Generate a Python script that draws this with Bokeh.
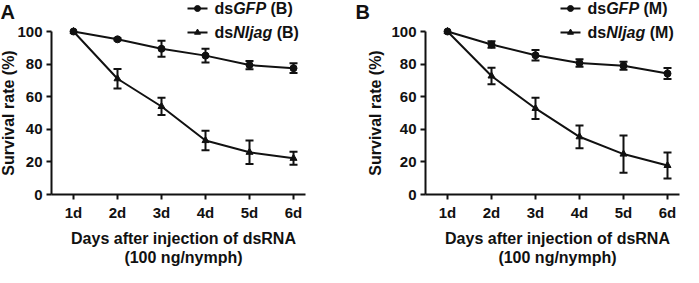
import math
from bokeh.plotting import figure
from bokeh.layouts import row
from bokeh.models import Label, Whisker, TeeHead, ColumnDataSource, FixedTicker
from bokeh.embed import file_html
from bokeh.resources import INLINE

# ---------------- data ----------------
days = [1, 2, 3, 4, 5, 6]
day_labels = ["1d", "2d", "3d", "4d", "5d", "6d"]
y_ticks = [0, 20, 40, 60, 80, 100]

a_gfp = [100, 95.2, 89.4, 85.2, 79.4, 77.5]
a_gfp_err = [0, 0.6, 4.9, 4.2, 2.5, 3.0]
a_nl = [100, 71.0, 54.0, 33.1, 25.9, 22.2]
a_nl_err = [0, 6.0, 5.3, 6.0, 7.2, 4.0]

b_gfp = [100, 92.0, 85.4, 80.7, 79.0, 74.2]
b_gfp_err = [0, 2.0, 3.2, 2.3, 2.5, 3.4]
b_nl = [100, 72.7, 52.8, 35.4, 24.8, 17.8]
b_nl_err = [0, 5.1, 6.5, 7.0, 11.4, 8.0]

x_title_1 = "Days after injection of dsRNA"
x_title_2 = "(100 ng/nymph)"
y_title = "Survival rate (%)"

# ---------------- layout ----------------
FONT = "Liberation Sans"
INK = "#111111"
H = 267
Y0_PX = 194
Y100_PX = 31
PPY = (Y0_PX - Y100_PX) / 100.0
PPX = 44.0
X_START = 0.5

# Arial bold advance widths (per 1000 em)
AW = {'d': 611, 's': 556, 'G': 778, 'F': 611, 'P': 667, 'N': 722, 'l': 278,
      'j': 278, 'a': 556, 'g': 611, ' ': 278, '(': 333, ')': 333, 'B': 722, 'M': 833}


def tw(t, size):
    return sum(AW.get(c, 600) for c in t) * size / 1000.0


def make_panel(letter, tag, gfp, gfp_err, nl, nl_err, width, axis_px,
               ylabel_px, letter_px, legend_px):
    def px2x(px):
        return X_START + (px - axis_px) / PPX

    def px2y(py):
        return (Y0_PX - py) / PPY

    p = figure(width=width, height=H, x_range=(px2x(0), px2x(width)),
               y_range=(px2y(H), px2y(0)),
               output_backend="svg", toolbar_location=None, min_border=0)
    p.outline_line_color = None
    p.grid.visible = False
    p.background_fill_color = "white"
    p.border_fill_color = "white"

    for ax in (p.xaxis, p.yaxis):
        ax.axis_line_width = 2
        ax.axis_line_color = INK
        ax.major_tick_line_width = 2
        ax.major_tick_line_color = INK
        ax.major_tick_out = 5
        ax.major_tick_in = 0
        ax.minor_tick_line_color = None
        ax.major_label_text_font = FONT
        ax.major_label_text_font_size = "15px"
        ax.major_label_text_font_style = "bold"
        ax.major_label_text_color = INK
        ax.major_label_standoff = 4
    p.xaxis.fixed_location = 0
    p.yaxis.fixed_location = X_START
    p.xaxis.ticker = FixedTicker(ticks=days)
    p.xaxis.major_label_overrides = {d: l for d, l in zip(days, day_labels)}
    p.xaxis.bounds = (X_START, days[-1] + 12 / PPX)
    p.yaxis.ticker = FixedTicker(ticks=y_ticks)
    p.yaxis.bounds = (0, 100)

    # error bars
    for vals, errs in ((gfp, gfp_err), (nl, nl_err)):
        base = [d for d, e in zip(days, errs) if e > 0]
        up = [v + e for v, e in zip(vals, errs) if e > 0]
        lo = [v - e for v, e in zip(vals, errs) if e > 0]
        src = ColumnDataSource(dict(base=base, upper=up, lower=lo))
        p.add_layout(Whisker(base="base", upper="upper", lower="lower", source=src,
                             line_width=2, line_color=INK,
                             upper_head=TeeHead(size=8, line_width=2, line_color=INK),
                             lower_head=TeeHead(size=8, line_width=2, line_color=INK)))

    p.line(days, gfp, line_width=2, color=INK)
    p.scatter(days, gfp, marker="circle", size=7, color=INK)
    p.line(days, nl, line_width=2, color=INK)
    p.scatter(days, nl, marker="triangle", size=7, color=INK)

    # legend
    rows = [(8, "circle", "GFP"), (32, "triangle", "Nljag")]
    fs = 16
    for ry, mk, name in rows:
        yy = px2y(ry)
        p.line([px2x(legend_px), px2x(legend_px + 20)], [yy, yy], line_width=2, color=INK)
        p.scatter([px2x(legend_px + 10)], [yy], marker=mk, size=6, color=INK)
        tx = legend_px + 27
        pieces = (("ds", "bold", 0), (name, "bold italic", 0), ("(" + tag + ")", "bold", tw(" ", fs)))
        for piece, style, gap in pieces:
            tx += gap
            p.add_layout(Label(x=px2x(tx), y=yy, text=piece, text_font=FONT,
                               text_font_size=f"{fs}px", text_font_style=style,
                               text_color=INK, text_align="left", text_baseline="middle"))
            tx += tw(piece, fs)

    # axis titles
    xc = (days[0] + days[-1]) / 2
    p.add_layout(Label(x=xc, y=px2y(238), text=x_title_1, text_font=FONT, text_font_size="16px",
                       text_font_style="bold", text_color=INK,
                       text_align="center", text_baseline="middle"))
    p.add_layout(Label(x=xc, y=px2y(257), text=x_title_2, text_font=FONT, text_font_size="16px",
                       text_font_style="bold", text_color=INK,
                       text_align="center", text_baseline="middle"))
    p.add_layout(Label(x=px2x(ylabel_px), y=px2y((Y0_PX + Y100_PX) / 2), text=y_title,
                       angle=math.pi / 2, text_font=FONT, text_font_size="16px",
                       text_font_style="bold", text_color=INK,
                       text_align="center", text_baseline="middle"))
    p.add_layout(Label(x=px2x(letter_px), y=px2y(0), text=letter, text_font=FONT,
                       text_font_size="20px", text_font_style="bold", text_color=INK,
                       text_align="left", text_baseline="top"))
    return p


pA = make_panel("A", "B", a_gfp, a_gfp_err, a_nl, a_nl_err, width=341, axis_px=51,
                ylabel_px=8, letter_px=0, legend_px=187)
pB = make_panel("B", "M", b_gfp, b_gfp_err, b_nl, b_nl_err, width=342, axis_px=84,
                ylabel_px=34, letter_px=14, legend_px=219)

layout = row(pA, pB)
open("out.html", "w").write(file_html(layout, INLINE))
